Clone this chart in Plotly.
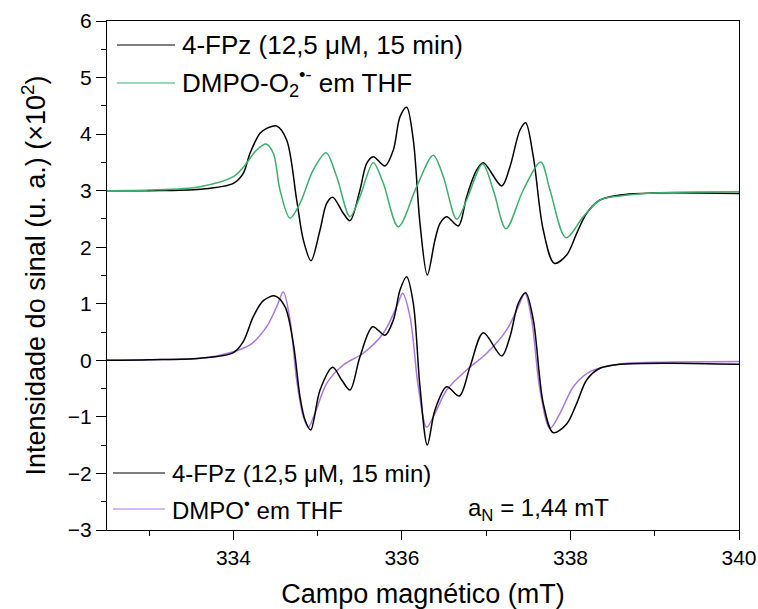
import plotly.graph_objects as go

# Magnetic field (mT) and signal intensity (x10^2, offset traces)
fpz_top_field = [332.5, 333.0, 333.604, 334.0, 334.117, 334.197, 334.316, 334.395, 334.514,
                 334.632, 334.751, 334.830, 334.921, 335.028, 335.107, 335.178, 335.304,
                 335.384, 335.502, 335.582, 335.660, 335.799, 335.898, 335.977, 336.056,
                 336.135, 336.214, 336.301, 336.392, 336.452, 336.531, 336.669, 336.768,
                 336.887, 336.966, 337.184, 337.282, 337.401, 337.468, 337.559, 337.677,
                 337.808, 337.955, 338.074, 338.192, 338.350, 338.588, 339.0, 340.0]
fpz_top_signal = [3.0, 3.0, 3.024, 3.13, 3.307, 3.661, 4.014, 4.102, 4.144,
                  3.896, 2.835, 2.128, 1.762, 2.305, 2.776, 2.883, 2.6,
                  2.47, 3.012, 3.484, 3.601, 3.436, 3.719, 4.308, 4.474,
                  3.896, 2.423, 1.509, 2.128, 2.423, 2.54, 2.375, 2.894,
                  3.366, 3.495, 3.083, 3.424, 4.073, 4.202, 3.601, 2.305,
                  1.716, 1.863, 2.246, 2.6, 2.835, 2.924, 2.96, 2.95]

superoxide_field = [332.5, 333.0, 333.604, 334.0, 334.117, 334.276, 334.387, 334.474, 334.553,
                    334.672, 334.790, 334.948, 335.099, 335.226, 335.384, 335.502, 335.660,
                    335.779, 335.957, 336.175, 336.372, 336.491, 336.650, 336.768, 336.958,
                    337.084, 337.235, 337.440, 337.647, 337.757, 337.947, 338.152, 338.350,
                    338.588, 339.0, 340.0]
superoxide_signal = [3.0, 3.01, 3.071, 3.247, 3.413, 3.719, 3.825, 3.661, 3.012,
                     2.512, 2.776, 3.366, 3.672, 3.247, 2.54, 2.894, 3.495,
                     3.13, 2.363, 3.071, 3.625, 3.247, 2.494, 2.835, 3.472,
                     3.012, 2.328, 3.012, 3.507, 3.012, 2.169, 2.54, 2.835,
                     2.906, 2.96, 2.98]

fpz_bottom_field = [332.5, 333.0, 333.604, 334.0, 334.117, 334.236, 334.355, 334.494, 334.612,
                    334.711, 334.790, 334.850, 334.917, 335.028, 335.178, 335.285, 335.384,
                    335.502, 335.653, 335.799, 335.898, 335.977, 336.056, 336.135, 336.214,
                    336.301, 336.392, 336.531, 336.681, 336.808, 336.966, 337.184, 337.282,
                    337.381, 337.468, 337.559, 337.677, 337.796, 337.955, 338.074, 338.192,
                    338.350, 338.588, 339.2, 340.0]
fpz_bottom_signal = [0.0, 0.01, 0.036, 0.136, 0.33, 0.772, 1.055, 1.138, 0.949,
                     0.301, -0.642, -1.054, -1.231, -0.524, -0.123, -0.347, -0.524,
                     0.065, 0.595, 0.443, 0.714, 1.244, 1.479, 1.009, -0.466,
                     -1.497, -0.878, -0.466, -0.63, -0.112, 0.489, 0.077, 0.418,
                     1.009, 1.196, 0.714, -0.76, -1.279, -1.125, -0.76, -0.347,
                     -0.14, -0.07, -0.05, -0.07]

dmpo_field = [332.5, 333.0, 333.604, 334.0, 334.197, 334.395, 334.514, 334.592, 334.672,
              334.751, 334.830, 334.889, 334.968, 335.107, 335.304, 335.541, 335.779,
              335.938, 336.009, 336.096, 336.194, 336.294, 336.392, 336.531, 336.768,
              337.006, 337.243, 337.381, 337.460, 337.540, 337.638, 337.757, 337.876,
              338.034, 338.232, 338.588, 339.2, 340.0]
dmpo_signal = [0.0, 0.01, 0.036, 0.153, 0.272, 0.595, 0.949, 1.209, 0.714,
               -0.347, -0.996, -1.184, -0.936, -0.406, -0.082, 0.125, 0.478,
               0.949, 1.185, 0.772, -0.466, -1.184, -0.936, -0.524, -0.171,
               0.125, 0.537, 0.949, 1.185, 0.714, -0.524, -1.201, -0.936,
               -0.466, -0.2, -0.064, -0.03, -0.02]

x_ticks = [334, 336, 338, 340]
y_ticks = [-3, -2, -1, 0, 1, 2, 3, 4, 5, 6]

BLACK = "#000000"
GREEN = "#3DAE6E"
PURPLE = "#A778E0"
FONT = "Liberation Sans"

fig = go.Figure()
series = [
    (fpz_top_field, fpz_top_signal, BLACK),
    (superoxide_field, superoxide_signal, GREEN),
    (dmpo_field, dmpo_signal, PURPLE),
    (fpz_bottom_field, fpz_bottom_signal, BLACK),
]
for xs, ys, col in series:
    fig.add_trace(go.Scatter(x=xs, y=ys, mode="lines",
                             line=dict(color=col, width=1.5, shape="spline", smoothing=0.9),
                             showlegend=False, hoverinfo="skip"))

# Plot area in pixels (used to place the legend keys and labels)
L, R, T, B = 107, 739, 21, 530
def px(xp):
    return (xp - L) / (R - L)
def py(yp):
    return (B - yp) / (B - T)

legend_rows = [
    # (key start, key end, text start, row y, colour, label, font size)
    (117, 175, 180, 45, BLACK, "4-FPz (12,5 \u03bcM, 15 min)", 26),
    (117, 175, 180, 83, GREEN, "DMPO-O<sub>2</sub><sup>\u2022-</sup> em THF", 26),
    (113, 165, 170, 473, BLACK, "4-FPz (12,5 \u03bcM, 15 min)", 24),
    (113, 165, 170, 509, PURPLE, "DMPO<sup>\u2022</sup> em THF", 24),
]
for x0, x1, xt, yr, col, label, fs in legend_rows:
    fig.add_shape(type="line", xref="paper", yref="paper",
                  x0=px(x0), x1=px(x1), y0=py(yr), y1=py(yr),
                  line=dict(color=col, width=1.2))
    fig.add_annotation(xref="paper", yref="paper", x=px(xt), y=py(yr),
                       xanchor="left", yanchor="middle", showarrow=False,
                       text=label, font=dict(family=FONT, size=fs, color="black"))

fig.add_annotation(xref="paper", yref="paper", x=px(466), y=py(509),
                   xanchor="left", yanchor="middle", showarrow=False,
                   text="a<sub>N</sub> = 1,44 mT",
                   font=dict(family=FONT, size=24, color="black"))

axis_common = dict(showline=True, linecolor="black", linewidth=1, mirror=True,
                   ticks="outside", tickcolor="black", tickwidth=1,
                   showgrid=False, zeroline=False, automargin=False,
                   tickfont=dict(family=FONT, size=21, color="black"))

fig.update_xaxes(range=[332.5, 340], tickvals=x_ticks, ticklen=9,
                 minor=dict(ticks="outside", dtick=1, tick0=333, ticklen=5, tickcolor="black"),
                 title=dict(text="Campo magn\u00e9tico (mT)",
                            font=dict(family=FONT, size=27, color="black"), standoff=16),
                 **axis_common)
fig.update_yaxes(range=[-3, 6], tickvals=y_ticks, ticklen=10,
                 minor=dict(ticks="outside", dtick=0.5, tick0=0, ticklen=5, tickcolor="black"),
                 title=dict(text="Intensidade do sinal (u. a.) (\u00d710<sup>2</sup>)",
                            font=dict(family=FONT, size=27, color="black"), standoff=14),
                 **axis_common)

fig.update_layout(width=758, height=609,
                  margin=dict(l=L, r=758 - R, t=T, b=609 - B),
                  paper_bgcolor="white", plot_bgcolor="white",
                  font=dict(family=FONT, color="black"))

fig.write_html("out.html")
